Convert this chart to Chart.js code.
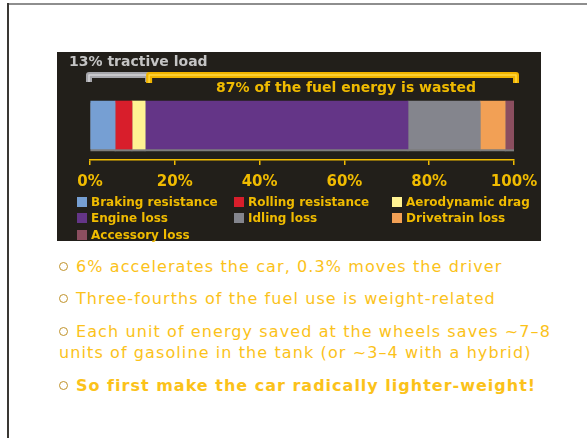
<!DOCTYPE html>
<html>
<head>
<meta charset="utf-8">
<script src="https://cdn.jsdelivr.net/npm/chart.js@4.4.1/dist/chart.umd.min.js"></script>
<style>
  html, body { margin: 0; padding: 0; }
  body {
    width: 587px; height: 438px; position: relative; overflow: hidden;
    background: #fff; font-family: "DejaVu Sans", Verdana, sans-serif;
  }
  .frameTop { position: absolute; left: 7px; top: 3px; width: 580px; height: 2px; background: #8e8e8e; }
  .frameLeft { position: absolute; left: 7px; top: 3px; width: 2px; height: 435px; background: #3a3834; }
  #panel {
    position: absolute; left: 57px; top: 52px; width: 484px; height: 189px;
    background: #221f1a;
  }
  #chartBox { position: absolute; left: 0; top: 0; width: 484px; height: 149px; }
  #legend {
    position: absolute; left: 20px; top: 142px;
    display: grid; grid-template-columns: 157px 158px auto;
    grid-auto-rows: 16.3px;
    font: bold 12px "DejaVu Sans", Verdana, sans-serif; color: #f0bb00;
  }
  #legend .item { display: flex; align-items: center; white-space: nowrap; }
  #legend .box { width: 10px; height: 10px; margin-right: 4px; flex: none; }
  #notes {
    position: absolute; left: 59px; top: 256px; width: 525px;
    font-size: 16px; line-height: 21.3px; color: #fbc21a; letter-spacing: 1.1px;
    white-space: nowrap;
  }
  #notes p { margin: 0 0 11.2px 0; }
  #notes .ring {
    display: inline-block; width: 7px; height: 7px; border: 1.5px solid #c0922a;
    border-radius: 50%; margin-right: 8px; vertical-align: 1px;
  }
  #notes b { font-weight: bold; letter-spacing: 1px; }
</style>
</head>
<body>
<div class="frameTop"></div>
<div class="frameLeft"></div>

<div id="panel">
  <div id="chartBox"><canvas id="chart"></canvas></div>
  <div id="legend"></div>
</div>

<div id="notes">
  <p><span class="ring"></span>6% accelerates the car, 0.3% moves the driver</p>
  <p><span class="ring"></span>Three-fourths of the fuel use is weight-related</p>
  <p><span class="ring"></span>Each unit of energy saved at the wheels saves ~7–8<br>units of gasoline in the tank (or ~3–4 with a hybrid)</p>
  <p><span class="ring"></span><b>So first make the car radically lighter-weight!</b></p>
</div>

<script>
// ===============================
// DATOS
// ===============================
const categories = ["Fuel energy"];
const segmentLabels = ["Braking resistance", "Rolling resistance", "Aerodynamic drag",
                       "Engine loss", "Idling loss", "Drivetrain loss", "Accessory loss"];
const segmentValues = [5.9, 4.0, 3.1, 62, 17, 5.9, 2.1];
const segmentColors = ["#769fd3", "#d81e2b", "#fff293", "#643587", "#84858d", "#f2a055", "#8b4e5f"];
const tickValues = [0, 20, 40, 60, 80, 100];
const tractiveShare = 13;
const tractiveText = "13% tractive load";
const wastedText = "87% of the fuel energy is wasted";

const YELLOW = "#f0bb00";

// ===============================
// PLUGINS
// ===============================
const barShadow = {
  id: "barShadow",
  beforeDatasetsDraw(chart) {
    const ctx = chart.ctx;
    ctx.save();
    ctx.shadowColor = "#7d7d7d";
    ctx.shadowOffsetX = 0;
    ctx.shadowOffsetY = 2;
    ctx.shadowBlur = 0;
  },
  afterDatasetsDraw(chart) {
    chart.ctx.restore();
  }
};

function bracket(ctx, x1, x2, y, drop, dark, light) {
  ctx.lineJoin = "round";
  ctx.lineCap = "butt";
  ctx.beginPath();
  ctx.moveTo(x1, y + drop);
  ctx.lineTo(x1, y);
  ctx.lineTo(x2, y);
  ctx.lineTo(x2, y + drop);
  ctx.strokeStyle = dark;
  ctx.lineWidth = 6;
  ctx.stroke();
  ctx.strokeStyle = light;
  ctx.lineWidth = 1.5;
  ctx.stroke();
}

const annotations = {
  id: "annotations",
  afterDraw(chart) {
    const ctx = chart.ctx;
    const x = chart.scales.x;
    const p0 = x.getPixelForValue(0);
    const p13 = x.getPixelForValue(tractiveShare);
    const p100 = x.getPixelForValue(100);
    ctx.save();
    bracket(ctx, p0 - 1, p13 + 3, 23, 7, "#a6a6ab", "#d4d4d8");
    bracket(ctx, p13 + 4, p100 + 2, 23, 8, "#f0b400", "#ffd640");

    ctx.textBaseline = "middle";
    ctx.textAlign = "left";
    ctx.font = "bold 14px 'DejaVu Sans', Verdana, sans-serif";
    ctx.fillStyle = "#c4c4c4";
    ctx.fillText(tractiveText, 12, 10);
    ctx.fillStyle = YELLOW;
    ctx.fillText(wastedText, 159, 36);
    ctx.restore();
  }
};

// ===============================
// GRÁFICO
// ===============================
const chart = new Chart(document.getElementById("chart"), {
  type: "bar",
  data: {
    labels: categories,
    datasets: segmentLabels.map((label, i) => ({
      label: label,
      data: [segmentValues[i]],
      backgroundColor: segmentColors[i],
      borderWidth: 0,
      barThickness: 48
    }))
  },
  options: {
    indexAxis: "y",
    responsive: true,
    maintainAspectRatio: false,
    animation: false,
    layout: { padding: { left: 33, right: 27, top: 38, bottom: 2 } },
    plugins: { legend: { display: false }, tooltip: { enabled: false } },
    scales: {
      x: {
        stacked: true,
        min: 0,
        max: 100,
        afterBuildTicks: axis => { axis.ticks = tickValues.map(v => ({ value: v })); },
        afterFit: axis => { axis.paddingLeft = 0; axis.paddingRight = 0; },
        grid: { display: true, drawOnChartArea: false, drawTicks: true, tickLength: 5, color: YELLOW, lineWidth: 1.5 },
        border: { display: true, color: YELLOW, width: 1.5 },
        ticks: {
          color: YELLOW,
          padding: 8,
          maxRotation: 0,
          font: { family: "'DejaVu Sans', Verdana, sans-serif", size: 15, weight: "bold" },
          callback: v => v + "%"
        }
      },
      y: { stacked: true, display: false }
    }
  },
  plugins: [barShadow, annotations]
});

// ===============================
// LEYENDA
// ===============================
const legend = document.getElementById("legend");
chart.data.datasets.forEach(ds => {
  const item = document.createElement("div");
  item.className = "item";
  const box = document.createElement("span");
  box.className = "box";
  box.style.background = ds.backgroundColor;
  item.appendChild(box);
  item.appendChild(document.createTextNode(ds.label));
  legend.appendChild(item);
});
</script>
</body>
</html>
